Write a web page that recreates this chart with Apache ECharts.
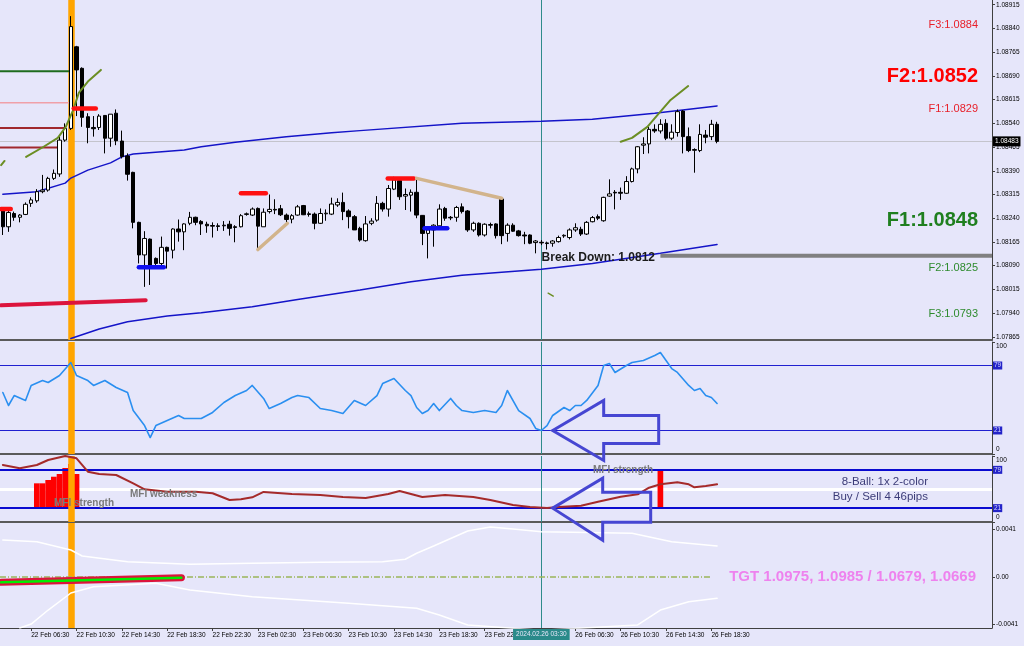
<!DOCTYPE html>
<html><head><meta charset="utf-8">
<script src="https://cdn.jsdelivr.net/npm/echarts@6.0.0/dist/echarts.min.js"></script>
<style>html,body{margin:0;padding:0;background:#E6E6FA}#c{width:1024px;height:646px}</style>
</head><body><div id="c"></div>
<script>
const FONT = 'Liberation Sans';
const N_CAT = 175;
// price axis ticks
const priceTicks = [1.07865,1.07940,1.08015,1.08090,1.08165,1.08240,1.08315,1.08390,1.08465,1.08540,1.08615,1.08690,1.08765,1.08840,1.08915];
const oscTicks = [-0.0041, 0, 0.0041];
// candles [open, close, low, high], M30 from 22 Feb 04:00
const candles = [
[1.08266,1.08213,1.08187,1.08268],[1.08213,1.08258,1.08197,1.08266],[1.08255,1.08243,1.08232,1.08261],[1.08243,1.08250,1.08227,1.08253],
[1.08252,1.08284,1.08250,1.08290],[1.08287,1.08298,1.08276,1.08306],[1.08295,1.08324,1.08289,1.08332],[1.08324,1.08329,1.08319,1.08377],
[1.08329,1.08366,1.08324,1.08371],[1.08366,1.08382,1.08361,1.08394],[1.08380,1.08487,1.08371,1.08498],[1.08487,1.08524,1.08482,1.08540],
[1.08524,1.08846,1.08519,1.08879],[1.08782,1.08709,1.08563,1.08785],[1.08714,1.08559,1.08529,1.08717],[1.08561,1.08527,1.08477,1.08572],
[1.08527,1.08523,1.08498,1.08563],[1.08527,1.08563,1.08519,1.08569],[1.08565,1.08493,1.08445,1.08565],[1.08493,1.08569,1.08466,1.08569],
[1.08572,1.08485,1.08471,1.08584],[1.08484,1.08435,1.08429,1.08517],[1.08437,1.08379,1.08359,1.08445],[1.08385,1.08227,1.08208,1.08387],
[1.08227,1.08124,1.08097,1.08229],[1.08124,1.08176,1.08023,1.08199],[1.08174,1.08087,1.08029,1.08176],[1.08113,1.08097,1.08087,1.08116],
[1.08097,1.08148,1.08081,1.08182],[1.08148,1.08136,1.08081,1.08150],[1.08139,1.08206,1.08113,1.08208],[1.08206,1.08197,1.08166,1.08236],
[1.08197,1.08222,1.08139,1.08224],[1.08224,1.08243,1.08218,1.08260],[1.08243,1.08227,1.08218,1.08245],[1.08230,1.08222,1.08187,1.08234],
[1.08221,1.08216,1.08194,1.08229],[1.08217,1.08215,1.08179,1.08227],[1.08216,1.08214,1.08200,1.08224],[1.08216,1.08218,1.08200,1.08231],
[1.08221,1.08208,1.08185,1.08232],[1.08213,1.08211,1.08164,1.08218],[1.08213,1.08248,1.08211,1.08253],[1.08252,1.08254,1.08248,1.08258],
[1.08250,1.08269,1.08247,1.08274],[1.08271,1.08215,1.08141,1.08274],[1.08213,1.08259,1.08213,1.08271],[1.08261,1.08268,1.08255,1.08315],
[1.08268,1.08266,1.08253,1.08300],[1.08270,1.08251,1.08247,1.08282],[1.08250,1.08236,1.08224,1.08255],[1.08237,1.08248,1.08224,1.08253],
[1.08250,1.08276,1.08248,1.08282],[1.08280,1.08251,1.08250,1.08282],[1.08254,1.08252,1.08245,1.08261],[1.08253,1.08224,1.08205,1.08258],
[1.08224,1.08255,1.08222,1.08271],[1.08254,1.08256,1.08232,1.08268],[1.08253,1.08285,1.08250,1.08305],[1.08282,1.08290,1.08276,1.08303],
[1.08290,1.08261,1.08234,1.08321],[1.08263,1.08245,1.08208,1.08268],[1.08245,1.08203,1.08203,1.08250],[1.08208,1.08171,1.08166,1.08213],
[1.08169,1.08222,1.08166,1.08247],[1.08224,1.08231,1.08218,1.08240],[1.08234,1.08287,1.08229,1.08310],[1.08287,1.08269,1.08261,1.08292],
[1.08269,1.08334,1.08245,1.08345],[1.08332,1.08361,1.08329,1.08371],[1.08359,1.08308,1.08298,1.08366],[1.08310,1.08315,1.08266,1.08334],
[1.08313,1.08322,1.08261,1.08331],[1.08322,1.08250,1.08240,1.08366],[1.08249,1.08192,1.08155,1.08250],[1.08192,1.08203,1.08113,1.08213],
[1.08203,1.08218,1.08150,1.08221],[1.08216,1.08269,1.08213,1.08284],[1.08271,1.08240,1.08232,1.08276],[1.08243,1.08241,1.08234,1.08247],
[1.08243,1.08274,1.08229,1.08279],[1.08276,1.08261,1.08255,1.08287],[1.08263,1.08203,1.08197,1.08266],[1.08203,1.08224,1.08197,1.08229],
[1.08224,1.08187,1.08182,1.08227],[1.08187,1.08221,1.08182,1.08224],[1.08220,1.08218,1.08208,1.08226],[1.08222,1.08185,1.08176,1.08224],
[1.08301,1.08185,1.08158,1.08303],[1.08192,1.08218,1.08166,1.08224],[1.08218,1.08199,1.08197,1.08224],[1.08200,1.08185,1.08182,1.08203],
[1.08187,1.08184,1.08158,1.08197],[1.08187,1.08161,1.08158,1.08189],[1.08163,1.08168,1.08129,1.08171],[1.08164,1.08162,1.08155,1.08171],
[1.08162,1.08160,1.08141,1.08166],[1.08161,1.08168,1.08150,1.08171],[1.08166,1.08179,1.08163,1.08185],[1.08184,1.08186,1.08178,1.08189],
[1.08179,1.08203,1.08173,1.08208],[1.08203,1.08210,1.08197,1.08224],[1.08205,1.08190,1.08184,1.08213],[1.08190,1.08227,1.08187,1.08231],
[1.08229,1.08242,1.08227,1.08247],[1.08245,1.08240,1.08234,1.08252],[1.08232,1.08306,1.08229,1.08308],[1.08310,1.08317,1.08308,1.08363],
[1.08322,1.08320,1.08268,1.08329],[1.08322,1.08319,1.08298,1.08337],[1.08319,1.08356,1.08317,1.08373],[1.08356,1.08396,1.08353,1.08400],
[1.08396,1.08466,1.08382,1.08468],[1.08471,1.08475,1.08443,1.08496],[1.08475,1.08521,1.08445,1.08529],[1.08521,1.08516,1.08510,1.08537],
[1.08516,1.08537,1.08508,1.08553],[1.08540,1.08493,1.08487,1.08553],[1.08493,1.08512,1.08487,1.08537],[1.08511,1.08577,1.08498,1.08584],
[1.08579,1.08498,1.08445,1.08582],[1.08498,1.08454,1.08449,1.08527],[1.08457,1.08455,1.08384,1.08461],[1.08454,1.08505,1.08449,1.08537],
[1.08503,1.08496,1.08477,1.08519],[1.08498,1.08537,1.08487,1.08551],[1.08537,1.08483,1.08477,1.08545]
];
// envelope bands [barIndex, price]
const bandUpper = [[0,1.08316],[6,1.08324],[11,1.08351],[12,1.08367],[15,1.08392],[19,1.08415],[21,1.08434],[23,1.08443],[32,1.08456],[35,1.08466],[41,1.08480],[50,1.08498],[58,1.08510],[63,1.08517],[81,1.08540],[95,1.08547],[104,1.08553],[115,1.08572],[126,1.08595]];
const bandLower = [[12,1.07860],[17,1.07890],[22,1.07913],[29,1.07931],[35,1.07941],[44,1.07960],[52,1.07983],[63,1.08013],[72,1.08039],[81,1.08060],[95,1.08079],[104,1.08097],[116,1.08129],[126,1.08157]];
// parabolic arcs
const arcStub = [[-0.3,1.08408],[0.3,1.08421]];
const arcLeft = [[4.1,1.08434],[7.2,1.08466],[9.7,1.08494],[11.1,1.08529],[12.4,1.08582],[13.4,1.08636],[15,1.08672],[17.3,1.08709]];
const arcRight = [[109,1.08482],[111,1.08494],[113.7,1.08529],[116,1.08577],[117.8,1.08614],[120.9,1.08658]];
const arcDash = [[96.2,1.08003],[97.1,1.07994]];
// swing markers
const redMarks = [[[-0.3,1.08269],[1.4,1.08269]],[[12.5,1.08587],[16.4,1.08587]],[[42,1.08319],[46.4,1.08319]],[[67.9,1.08366],[72.5,1.08366]]];
const blueMarks = [[[24,1.08085],[28.4,1.08085]],[[74.4,1.08208],[78.4,1.08208]]];
const tanLines = [[[45,1.08141],[50.2,1.08224]],[[73,1.08366],[88,1.08303]]];
const crimsonSlope = [[-0.3,1.07965],[25.2,1.07981]];
const levelGreen = [[-0.5,1.08705],[11.7,1.08705]];
const levelPink = [[-0.5,1.08605],[11.7,1.08605]];
const levelBrown1 = [[-0.5,1.08525],[11.0,1.08525]];
const levelBrown2 = [[-0.5,1.08464],[9.9,1.08464]];
const breakDown = [[116,1.08121],[174.5,1.08121]];
// RSI
const rsiPts = [[0,54.9],[1,43.3],[2,52.2],[4,47.8],[5,61.2],[7,65.6],[8,63.8],[10,70.1],[12,81.7],[13,70.1],[15,65.6],[16,61.2],[18,65.6],[20,59.4],[22,54.9],[23,38.8],[25,25.4],[26,14.7],[27,25.4],[29,29.9],[31,34.4],[32,31.7],[35,31.7],[37,37.1],[39,46.0],[41,52.2],[43,56.7],[44,61.2],[46,49.6],[47,40.6],[49,45.1],[51,50.4],[52,52.2],[54,50.4],[56,40.6],[58,38.8],[60,36.2],[62,47.8],[64,43.3],[66,52.2],[67,62.9],[69,67.4],[71,56.7],[72,52.2],[73,41.5],[74,36.2],[75,38.8],[76,45.1],[77,38.8],[79,49.6],[80,43.3],[81,38.8],[83,37.1],[85,38.8],[87,37.1],[88,43.3],[89,56.7],[91,38.8],[93,31.7],[94,22.8],[95,21.0],[96,25.4],[97,34.4],[99,41.5],[100,38.8],[101,43.3],[102,43.3],[103,47.8],[105,61.2],[106,79.0],[107,80.8],[108,72.8],[110,79.0],[111,81.7],[113,83.5],[115,87.9],[116,90.6],[117,83.5],[118,76.3],[119,72.8],[121,61.2],[122,56.7],[123,58.5],[124,52.2],[125,50.4],[126,45.1]];
const rsiLevels = [79, 21];
// MFI
const mfiPts = [[0,86.4],[3,81.4],[6,86.4],[8,93.9],[11,100],[13,96.5],[15,76.2],[17,72.7],[20,71.2],[23,58.6],[25,49.5],[29,45.9],[34,45.9],[37,43.5],[40,33.3],[42,34.4],[44,37.4],[46,45.5],[51,42.4],[56,40.9],[60,37.9],[64,36.4],[68,42.4],[70,47.0],[74,37.9],[78,40.9],[83,37.9],[86,33.3],[90,25.8],[93,22.7],[96,21.2],[98,22.7],[102,24.7],[105,30.8],[109,38.4],[112,42.0],[114,52.0],[116,57.1],[119,60.2],[121,57.1],[122,52.6],[124,54.5],[126,57.1]];
const mfiLevels = [79, 21];
const mfiMid = 50;
const mfiBars = [[6,58.6],[7,58.6],[8,63.6],[9,68.6],[10,72.7],[11,81.8],[12,87.9],[13,72.7],[116,79]];
// bottom oscillator
const oscUpper = [[0,0.00319],[6,0.00305],[12,0.00233],[14,0.00181],[22,0.00132],[33,0.00110],[44,0.00118],[56,0.00127],[67,0.00132],[71,0.00153],[73,0.00205],[76,0.00268],[82,0.00397],[86,0.00432],[90,0.00414],[95,0.00391],[111,0.00377],[118,0.00305],[126,0.00268]];
const oscLower = [[3,-0.0044],[5,-0.00406],[8,-0.00285],[12,-0.00138],[16,-0.00084],[27,-0.00054],[33,-0.00112],[44,-0.00170],[61,-0.00227],[73,-0.00270],[77,-0.00328],[82,-0.00414],[95,-0.0046],[112,-0.00414],[116,-0.00285],[121,-0.00213],[126,-0.00184]];
const oscTrend = [[-0.3,-0.00046],[31.5,-0.00006]];
const oscZero = [[-0.5,0],[125,0]];
const newsBar = 12, cursorBar = 95, lastLabelBar = 125;

function buildCategories(n) {
  const out = []; let t = Date.UTC(2024, 1, 22, 4, 0);
  const mon = ['Jan','Feb','Mar'];
  const p = v => String(v).padStart(2, '0');
  while (out.length < n) {
    const d = new Date(t); const wd = d.getUTCDay();
    if (wd !== 0 && wd !== 6) out.push(p(d.getUTCDate()) + ' ' + mon[d.getUTCMonth()] + ' ' + p(d.getUTCHours()) + ':' + p(d.getUTCMinutes()));
    t += 1800000;
  }
  return out;
}
const categories = buildCategories(N_CAT);
const lastClose = candles[candles.length - 1][1];

const chart = echarts.init(document.getElementById('c'), null, {renderer: 'canvas'});
const gridBase = {left: -1, right: 32};
const grids = [
  Object.assign({top: 0, height: 340}, gridBase),
  Object.assign({top: 342, height: 112}, gridBase),
  Object.assign({top: 456, height: 66}, gridBase),
  Object.assign({top: 523, height: 105}, gridBase)
];
const showLbl = idx => idx <= lastLabelBar && (idx - 5) % 8 === 0;
const xAxes = [];
for (let g = 0; g < 4; g++) {
  xAxes.push({type: 'category', gridIndex: g, data: categories, boundaryGap: true,
    axisLine: {show: true, onZero: false, lineStyle: {color: g === 3 ? '#404040' : '#5a5a5a', width: g === 3 ? 1 : 2}},
    axisTick: g === 3 ? {show: true, interval: showLbl, alignWithLabel: true, length: 3, inside: false, lineStyle: {color: '#404040'}} : {show: false},
    axisLabel: g === 3 ? {show: true, interval: showLbl, align: 'left', margin: 4, color: '#000', fontSize: 6.5, fontFamily: FONT} : {show: false},
    splitLine: {show: false}});
}
for (let g = 0; g < 4; g++) xAxes.push({type: 'value', gridIndex: g, min: -0.5, max: N_CAT - 0.5, show: false});

const yCommon = {type: 'value', position: 'right', splitLine: {show: false},
  axisLine: {show: true, onZero: false, lineStyle: {color: '#404040'}}};
const lblStyle = {color: '#000', fontSize: 6.5, fontFamily: FONT, margin: 4};
const richEdge = {t: {padding: [8, 0, 0, 0], fontSize: 6.5, fontFamily: FONT, color: '#000'}, b: {padding: [0, 0, 10, 0], fontSize: 6.5, fontFamily: FONT, color: '#000'}};
const yAxes = [
  Object.assign({}, yCommon, {gridIndex: 0, min: 1.07855, max: 1.08930,
    axisTick: {show: true, length: 3, customValues: priceTicks, lineStyle: {color: '#404040'}},
    axisLabel: Object.assign({customValues: priceTicks, formatter: v => v.toFixed(5)}, lblStyle)}),
  Object.assign({}, yCommon, {gridIndex: 1, min: 0, max: 100,
    axisTick: {show: true, length: 3, customValues: [0, 100]},
    axisLabel: Object.assign({customValues: [0, 100], formatter: v => v === 100 ? '{t|100}' : '{b|0}', rich: richEdge}, lblStyle)}),
  Object.assign({}, yCommon, {gridIndex: 2, min: 0, max: 100,
    axisTick: {show: true, length: 3, customValues: [0, 100]},
    axisLabel: Object.assign({customValues: [0, 100], formatter: v => v === 100 ? '{t|100}' : '{b|0}', rich: richEdge}, lblStyle)}),
  Object.assign({}, yCommon, {gridIndex: 3, min: -0.00440, max: 0.00466,
    axisTick: {show: true, length: 3, customValues: oscTicks},
    axisLabel: Object.assign({customValues: oscTicks, formatter: v => Math.abs(v) < 1e-9 ? '0.00' : v.toFixed(4)}, lblStyle)})
];

function ln(data, g, color, width, extra) {
  const s = {type: 'line', xAxisIndex: 4 + g, yAxisIndex: g, data: data, symbol: 'none', showSymbol: false,
    lineStyle: {color: color, width: width, cap: 'round'}, silent: true, z: 5, animation: false};
  if (extra) { for (const k in extra) { if (k === 'lineStyle') Object.assign(s.lineStyle, extra[k]); else s[k] = extra[k]; } }
  return s;
}
function vlines(g, withLabel) {
  return {type: 'line', xAxisIndex: 4 + g, yAxisIndex: g, data: [], z: 1, silent: true,
    markLine: {silent: true, symbol: 'none', animation: false, precision: 5, z: 4.5,
      data: [
        {xAxis: newsBar, lineStyle: {color: '#FFA500', width: 6.5, type: 'solid'}, label: {show: false}},
        {xAxis: cursorBar, lineStyle: {color: '#2E8B8B', width: 1, type: 'solid'},
          label: withLabel ? {show: true, position: 'start', formatter: '2024.02.26 03:30', backgroundColor: '#2A8A8A', color: '#E6E6FA', fontSize: 6.5, fontFamily: FONT, padding: [2, 3, 2, 3], distance: 1} : {show: false}}
      ]}};
}
function levelLines(g, levels, color, width, labelBg, z) {
  return {type: 'line', xAxisIndex: 4 + g, yAxisIndex: g, data: [], z: z || 3, silent: true,
    markLine: {silent: true, symbol: 'none', animation: false, precision: 5, z: z || 3,
      data: levels.map(v => ({yAxis: v, lineStyle: {color: color, width: width, type: 'solid'},
        label: labelBg ? {show: true, position: 'end', formatter: String(v), backgroundColor: labelBg, color: '#D8D8FF', fontSize: 6.5, fontFamily: FONT, padding: [1, 1, 0, 1], distance: 1} : {show: false}}))}};
}
function arrow(g, tip, shape) {
  return {type: 'custom', xAxisIndex: 4 + g, yAxisIndex: g, data: [tip], clip: false, z: 20, silent: true,
    renderItem: (params, api) => {
      const p = api.coord([api.value(0), api.value(1)]);
      return {type: 'polygon', shape: {points: shape.map(d => [p[0] + d[0], p[1] + d[1]])},
        style: {fill: 'none', stroke: '#4646D2', lineWidth: 3, lineJoin: 'miter'}};
    }};
}
const arrowShape1 = [[0,0],[51,-30],[51,-15],[106,-15],[106,13],[51,13],[51,30]];
const arrowShape2 = [[0,0],[50,-30],[50,-16],[98,-16],[98,14],[50,14],[50,32]];

const barBase = new Array(N_CAT).fill('-');
const barTop = new Array(N_CAT).fill('-');
mfiBars.forEach(([i, v]) => { barBase[i] = 21; barTop[i] = v - 21; });

const series = [];
// ----- main grid
series.push(vlines(0, false));
series.push({type: 'line', xAxisIndex: 4, yAxisIndex: 0, data: [], z: 2, silent: true,
  markLine: {silent: true, symbol: 'none', animation: false, precision: 5, z: 2, data: [{yAxis: lastClose, lineStyle: {color: '#C4C4CC', width: 1, type: 'solid'},
    label: {show: true, position: 'end', formatter: lastClose.toFixed(5), backgroundColor: '#000', color: '#fff', fontSize: 6.5, fontFamily: FONT, padding: [2, 2, 1, 2], distance: 1}}]}});
series.push(ln(levelGreen, 0, '#1E6B1E', 2, {lineStyle: {cap: 'butt'}}));
series.push(ln(levelPink, 0, '#F0A0A8', 1.5, {lineStyle: {cap: 'butt'}}));
series.push(ln(levelBrown1, 0, '#A0282D', 2, {lineStyle: {cap: 'butt'}}));
series.push(ln(levelBrown2, 0, '#A0282D', 2, {lineStyle: {cap: 'butt'}}));
series.push(ln(bandUpper, 0, '#1414C8', 1.5));
series.push(ln(bandLower, 0, '#1414C8', 1.5));
series.push(ln(crimsonSlope, 0, '#DC143C', 4));
series.push(ln(breakDown, 0, '#808080', 4, {lineStyle: {cap: 'butt'}}));
series.push({type: 'candlestick', xAxisIndex: 0, yAxisIndex: 0, data: candles, barWidth: 4, z: 8, silent: true, animation: false,
  itemStyle: {color: '#FFFFFF', color0: '#000000', borderColor: '#000000', borderColor0: '#000000', borderWidth: 1}});
series.push(ln(arcStub, 0, '#6B8E23', 2, {z: 9}));
series.push(ln(arcLeft, 0, '#6B8E23', 2, {z: 9}));
series.push(ln(arcRight, 0, '#6B8E23', 2, {z: 9}));
series.push(ln(arcDash, 0, '#6B8E23', 1.5, {z: 9}));
redMarks.forEach(m => series.push(ln(m, 0, '#FF1010', 4.5, {z: 9})));
blueMarks.forEach(m => series.push(ln(m, 0, '#1010F0', 4.5, {z: 9})));
tanLines.forEach(m => series.push(ln(m, 0, '#D2B48C', 3.5, {z: 9})));
// ----- RSI
series.push(vlines(1, false));
series.push(levelLines(1, rsiLevels, '#2020D0', 1, '#2323C8'));
series.push(ln(rsiPts, 1, '#2A8FF0', 1.6, {lineStyle: {cap: 'round', join: 'round'}}));
series.push(arrow(1, [97, 21], arrowShape1));
// ----- MFI
series.push(vlines(2, false));
series.push(levelLines(2, [mfiMid], '#FFFFFF', 3, null, 1));
series.push({type: 'bar', xAxisIndex: 2, yAxisIndex: 2, stack: 'mfi', data: barBase, barWidth: '100%', itemStyle: {color: 'rgba(0,0,0,0)'}, silent: true, z: 4, animation: false});
series.push({type: 'bar', xAxisIndex: 2, yAxisIndex: 2, stack: 'mfi', data: barTop, barWidth: '100%', itemStyle: {color: '#FF0000'}, silent: true, z: 4, animation: false});
series.push(levelLines(2, mfiLevels, '#0A0AD0', 2, '#2323C8', 4.2));
series.push(ln(mfiPts, 2, '#A52A2A', 2, {lineStyle: {join: 'round'}}));
series.push(arrow(2, [97, 21], arrowShape2));
// ----- bottom oscillator
series.push(vlines(3, true));
series.push(ln(oscZero, 3, '#9BB55A', 1.3, {lineStyle: {type: [6, 2, 1, 2], cap: 'butt'}}));
series.push(ln(oscUpper, 3, '#FFFFFF', 1.5));
series.push(ln(oscLower, 3, '#FFFFFF', 1.5));
series.push(ln(oscTrend, 3, '#DC143C', 7));
series.push(ln(oscTrend, 3, '#00EE00', 2.5, {z: 6}));

function txt(x, y, s, color, size, weight, align) {
  return {type: 'text', x: x, y: y, z: 100, silent: true,
    style: {text: s, fill: color, font: (weight || 'normal') + ' ' + size + 'px "' + FONT + '"', textAlign: align || 'right', textVerticalAlign: 'middle'}};
}
const graphics = [
  txt(978, 25, 'F3:1.0884', '#E8202A', 11),
  txt(978, 76, 'F2:1.0852', '#FF0000', 20, 'bold'),
  txt(978, 109, 'F1:1.0829', '#E8202A', 11),
  txt(978, 220, 'F1:1.0848', '#1F7F1F', 20, 'bold'),
  txt(978, 268, 'F2:1.0825', '#2E8B2E', 11),
  txt(978, 314, 'F3:1.0793', '#2E8B2E', 11),
  txt(655, 258, 'Break Down: 1.0812', '#1a1a1a', 12, 'bold'),
  txt(54, 503, 'MFI strength', '#7a7a7a', 10, 'bold', 'left'),
  txt(130, 494, 'MFI weakness', '#7a7a7a', 10, 'bold', 'left'),
  txt(593, 470, 'MFI strength', '#7a7a7a', 10, 'bold', 'left'),
  txt(928, 482, '8-Ball: 1x 2-color', '#3C3C78', 11.5),
  txt(928, 497, 'Buy / Sell 4 46pips', '#3C3C78', 11.5),
  txt(976, 577, 'TGT 1.0975, 1.0985 / 1.0679, 1.0669', '#EE82EE', 15, 'bold')
];

chart.setOption({
  animation: false,
  backgroundColor: '#E6E6FA',
  grid: grids,
  xAxis: xAxes,
  yAxis: yAxes,
  series: series,
  graphic: graphics
});
</script></body></html>
